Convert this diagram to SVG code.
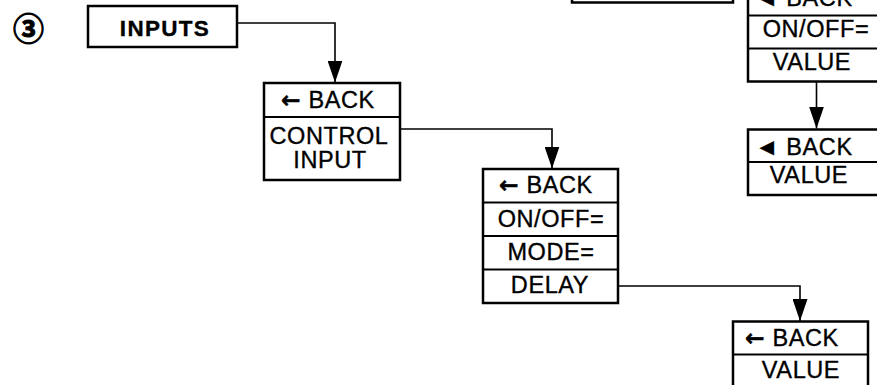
<svg xmlns="http://www.w3.org/2000/svg" width="877" height="385" viewBox="0 0 877 385">
<defs>
<style>
.box{fill:#fff;stroke:#000;stroke-width:2.5}
.div{stroke:#000;stroke-width:2}
.t{font-family:"Liberation Sans",Arial,sans-serif;font-size:23.5px;letter-spacing:0.6px;text-anchor:middle;fill:#000;stroke:#000;stroke-width:0.35}
.b{font-weight:bold;font-size:22.5px;letter-spacing:1.3px}
.ar{font-family:"DejaVu Sans",sans-serif;font-weight:bold}
.con{fill:none;stroke:#000;stroke-width:1.6}
</style>
<marker id="ah" viewBox="0 0 22 15" refX="22" refY="7.5" markerWidth="22" markerHeight="15" markerUnits="userSpaceOnUse" orient="auto">
<path d="M0,0 L22,7.5 L0,15 Z" fill="#000"/>
</marker>
</defs>
<rect width="877" height="385" fill="#fff"/>
<g id="connectors">
<path class="con" d="M237,23 H335 V82.5" marker-end="url(#ah)"/>
<path class="con" d="M400,129 H552 V168.5" marker-end="url(#ah)"/>
<path class="con" d="M617.5,286 H800 V321" marker-end="url(#ah)"/>
<path class="con" d="M816.5,81.5 V128.5" marker-end="url(#ah)"/>
</g>
<g id="step3">
<text x="28.5" y="40" style="font-family:'Noto Sans CJK JP','DejaVu Sans',sans-serif;font-size:31px;font-weight:bold;text-anchor:middle;stroke:#000;stroke-width:1">③</text>
</g>
<g id="inputs">
<rect class="box" x="88" y="6" width="149" height="41"/>
<text class="t b" x="165" y="36">INPUTS</text>
</g>
<g id="control-input">
<rect class="box" x="264" y="83" width="136" height="97"/>
<line class="div" x1="264" y1="117" x2="400" y2="117"/>
<text class="t" x="328" y="108"><tspan class="ar">←</tspan> BACK</text>
<text class="t" x="329" y="144">CONTROL</text>
<text class="t" x="330" y="168">INPUT</text>
</g>
<g id="input-settings">
<rect class="box" x="483" y="169" width="135" height="134"/>
<line class="div" x1="483" y1="202.5" x2="618" y2="202.5"/>
<line class="div" x1="483" y1="236" x2="618" y2="236"/>
<line class="div" x1="483" y1="269.5" x2="618" y2="269.5"/>
<text class="t" x="546" y="193"><tspan class="ar">←</tspan> BACK</text>
<text class="t" x="551" y="227">ON/OFF=</text>
<text class="t" x="551" y="260">MODE=</text>
<text class="t" x="550" y="293">DELAY</text>
</g>
<g id="delay-value">
<rect class="box" x="733" y="321.5" width="135" height="70"/>
<line class="div" x1="733" y1="354.5" x2="868" y2="354.5"/>
<text class="t" x="792" y="345.5"><tspan class="ar">←</tspan> BACK</text>
<text class="t" x="801" y="378">VALUE</text>
</g>
<g id="top-middle">
<rect class="box" x="572" y="-40" width="161" height="42.5"/>
</g>
<g id="top-right">
<rect class="box" x="748" y="-20" width="135" height="101.5"/>
<line class="div" x1="748" y1="15.5" x2="883" y2="15.5"/>
<line class="div" x1="748" y1="48.5" x2="883" y2="48.5"/>
<text class="t" x="804" y="6">◄ BACK</text>
<text class="t" x="816" y="37">ON/OFF=</text>
<text class="t" x="812" y="70">VALUE</text>
</g>
<g id="right-value">
<rect class="box" x="748" y="129.5" width="135" height="65.5"/>
<line class="div" x1="748" y1="162" x2="883" y2="162"/>
<text class="t" x="804" y="155">◄ BACK</text>
<text class="t" x="809" y="183">VALUE</text>
</g>
</svg>
